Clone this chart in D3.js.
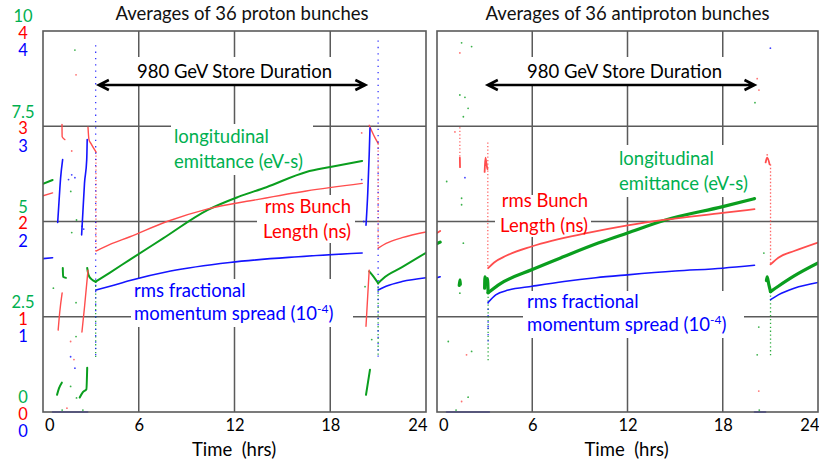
<!DOCTYPE html>
<html>
<head>
<meta charset="utf-8">
<script src="https://cdn.jsdelivr.net/npm/d3@7"></script>
<style>
  body { margin: 0; background: #fff; }
  svg { display: block; font-family: Lato, "Open Sans", sans-serif; }
</style>
</head>
<body>
<svg id="chart" width="819" height="466"></svg>
<script>
// ---------------------------------------------------------------------------
// Axis ticks and titles
const timeTicks = [0, 6, 12, 18, 24];              // hours
const emittanceTicks = [0, 2.5, 5, 7.5, 10];        // eV-s
const lengthTicks = [0, 1, 2, 3, 4];                // ns
const spreadTicks = [0, 1, 2, 3, 4];                // 1e-4
const panelTitles = ["Averages of 36 proton bunches", "Averages of 36 antiproton bunches"];
const storeSpan = [[3.5, 20.2], [3.2, 20.0]];       // hours at 980 GeV

// ---------------------------------------------------------------------------
// Proton bunches: traces are [hours, value]; drops are [hours, from, to]
const pEmitTraces = [
  [[0, 5.99], [0.6, 6.09]],
  [[0.88, 0.45], [1.0, 0.62], [1.18, 0.77]],
  [[1.24, 3.78], [1.26, 3.55], [1.44, 3.52]],
  [[2.3, 0.38], [2.5, 0.52], [2.72, 0.6], [2.77, 1.16]],
  [[2.77, 3.78], [2.85, 3.6], [3.05, 3.48], [3.3, 3.42]],
  [[3.3, 3.42], [4.2, 3.66], [5.45, 4.0], [7.5, 4.55], [10.3, 5.3], [12.2, 5.64], [14, 5.9], [16.5, 6.3], [18, 6.43], [20, 6.59]],
  [[20.24, 0.45], [20.49, 1.11]],
  [[20.44, 3.69], [20.7, 3.56], [21.0, 3.38]],
  [[21.0, 3.38], [21.3, 3.5], [22.5, 3.8], [24, 4.18]]
];
const pEmitDrops = [[3.3, 3.42, 1.42], [21.0, 3.38, 1.44]];
const pEmitDots = [[2.0, 9.5], [1.74, 5.79], [2.1, 5.04], [1.8, 4.71], [0.65, 3.25], [2.07, 2.87],
  [2.07, 1.98], [1.73, 0.67], [2.1, 0.37], [1.2, 0.05], [2.5, 0.05], [20.18, 3.29], [20.6, 1.9]];

const pLenTraces = [
  [[0, 2.27], [0.6, 2.3]],
  [[0.95, 0.86], [1.05, 1.05], [1.2, 1.25]],
  [[1.19, 3.02], [1.2, 2.89], [1.37, 2.86]],
  [[2.44, 0.84], [2.6, 1.1], [2.82, 1.49]],
  [[2.82, 2.99], [2.88, 2.86], [3.0, 2.82], [3.32, 2.73]],
  [[3.32, 1.69], [4.2, 1.76], [5.45, 1.84], [7.77, 2.0], [10.28, 2.13], [13.41, 2.23], [16.5, 2.32], [20, 2.4]],
  [[20.24, 0.9], [20.44, 1.49]],
  [[20.44, 3.01], [20.6, 2.95], [20.8, 2.88], [21.0, 2.82]],
  [[21.0, 1.72], [21.5, 1.77], [22.5, 1.83], [24, 1.89]]
];
const pLenDrops = [[3.32, 2.73, 1.69], [21.0, 2.82, 1.72]];
const pLenDots = [[2.07, 3.54], [1.8, 2.74], [1.73, 0.74], [1.94, 0.55], [19.97, 2.93], [1.5, 0.04]];

const pSpreadTraces = [
  [[0, 1.61], [0.6, 1.62]],
  [[0.92, 1.99], [1.0, 2.2], [1.1, 2.45], [1.23, 2.65]],
  [[2.42, 1.86], [2.5, 2.1], [2.6, 2.4], [2.74, 2.65], [2.77, 2.86]],
  [[3.32, 1.28], [4.2, 1.32], [5.45, 1.38], [8, 1.48], [11.7, 1.57], [16, 1.63], [20, 1.67]],
  [[20.24, 1.96], [20.35, 2.3], [20.44, 2.7], [20.49, 2.98]],
  [[21.0, 1.28], [21.5, 1.32], [22.5, 1.37], [24, 1.41]],
  [[0.6, 0.0], [2.8, 0.0]]
];
const pSpreadDrops = [[3.3, 3.85, 0.57], [21.0, 3.9, 0.57]];
const pSpreadDots = [[1.6, 2.44], [1.8, 2.49], [2.0, 2.46], [1.73, 0.58], [2.0, 0.46],
  [19.97, 2.44], [20.1, 2.0], [2.45, 1.95], [2.55, 1.92]];

// ---------------------------------------------------------------------------
// Antiproton bunches
const aEmitTraces = [
  [[0, 4.42], [0.2, 4.46]],
  [[1.4, 3.32], [1.45, 3.47], [1.47, 3.35]],
  [[3.0, 3.25], [3.02, 3.55], [3.12, 3.4], [3.18, 3.5], [3.22, 3.13]],
  [[3.22, 3.13], [4, 3.37], [6, 3.74], [8, 4.08], [10.2, 4.44], [12, 4.7], [14.4, 5.04], [18, 5.39], [20, 5.6]],
  [[20.75, 3.45], [20.8, 3.55], [20.9, 3.35], [21.01, 3.16]],
  [[21.01, 3.16], [21.5, 3.3], [22.5, 3.57], [24, 3.91]]
];
const aEmitDrops = [[3.22, 3.13, 1.32], [21.01, 3.16, 1.42]];
const aEmitDots = [[1.55, 9.69], [2.18, 9.59], [1.44, 8.32], [1.76, 8.26], [1.96, 7.97], [1.66, 7.75],
  [0.61, 6.05], [1.55, 5.61], [1.55, 5.44], [1.66, 4.43], [1.44, 3.12], [0.71, 1.85], [2.18, 1.59],
  [1.96, 0.39], [20.03, 8.12], [20.59, 4.17], [20.27, 2.23], [20.17, 1.5], [1.2, 0.05], [20.3, 0.05]];

const aLenTraces = [
  [[0, 1.88], [0.2, 1.9]],
  [[1.44, 2.67], [1.45, 2.57]],
  [[3.0, 2.52], [3.05, 2.67], [3.12, 2.6], [3.18, 2.55]],
  [[3.22, 1.51], [3.6, 1.57], [4.35, 1.64], [6, 1.74], [9.5, 1.88], [12, 1.96], [14.4, 2.02], [18, 2.09], [20, 2.13]],
  [[20.7, 2.62], [20.8, 2.67], [20.95, 2.6]],
  [[21.01, 1.55], [21.5, 1.62], [22.5, 1.69], [24, 1.78]]
];
const aLenDrops = [[1.44, 2.99, 2.67], [3.2, 2.83, 1.51], [21.01, 2.6, 1.55]];
const aLenDots = [[1.44, 3.77], [1.13, 2.94], [1.86, 0.6], [1.55, 0.11], [20.17, 3.5], [20.28, 3.38],
  [20.27, 0.22], [20.8, 2.7]];

const aSpreadTraces = [
  [[0, 1.41], [0.2, 1.42]],
  [[3.22, 1.15], [3.7, 1.23], [4.5, 1.28], [6, 1.32], [8, 1.37], [10, 1.41], [12, 1.44], [15, 1.48], [18, 1.51], [20, 1.54]],
  [[21.01, 1.18], [21.5, 1.23], [22.5, 1.3], [24, 1.36]],
  [[0.6, 0.0], [3.3, 0.0]],
  [[20.0, 0.0], [20.7, 0.0]]
];
const aSpreadDrops = [[3.22, 1.15, 0.7]];
const aSpreadDots = [[1.76, 2.46], [21.0, 3.82], [3.22, 0.9]];

// ---------------------------------------------------------------------------
const colors = {
  emitText: "#00b050", lenText: "#ff0000", spreadText: "#0000ff",
  emit: "#0a9e1e", len: "#ff4d4d", spread: "#1414ff",
  grid: "#5a5a5a"
};

const svg = d3.select("#chart");
const plotTop = 31, plotBottom = 412;

const yEmit = d3.scaleLinear().domain([0, 10]).range([plotBottom, plotTop]);
const yLen = d3.scaleLinear().domain([0, 4]).range([plotBottom, plotTop]);
const ySpread = d3.scaleLinear().domain([0, 4]).range([plotBottom, plotTop]);

const panels = [
  {
    x0: 43, x1: 426, titleX: 242, timeX: 234,
    title: panelTitles[0], span: storeSpan[0],
    series: [
      { traces: pEmitTraces, drops: pEmitDrops, dots: pEmitDots, y: yEmit, color: colors.emit, width: 2, dash: "1.3 2.6" },
      { traces: pLenTraces, drops: pLenDrops, dots: pLenDots, y: yLen, color: colors.len, width: 1.4, dash: "1.3 2.2" },
      { traces: pSpreadTraces, drops: pSpreadDrops, dots: pSpreadDots, y: ySpread, color: colors.spread, width: 1.6, dash: "1.3 5" }
    ],
    labels: {
      store: { x: 234.5, y: 78, box: [133, 57, 205, 27] },
      emit: { x: 174, y: [143, 168], anchor: "start", box: [171, 124, 142, 51] },
      len: { x: 351, y: [213, 238], anchor: "end", box: [257, 195, 98, 48] },
      spread: { x: 134, y: [297, 320], anchor: "start", box: [131, 279, 222, 48] }
    }
  },
  {
    x0: 437, x1: 818, titleX: 627.5, timeX: 626.5,
    title: panelTitles[1], span: storeSpan[1],
    series: [
      { traces: aEmitTraces, drops: aEmitDrops, dots: aEmitDots, y: yEmit, color: colors.emit, width: 3.2, dash: "1.3 2.6" },
      { traces: aLenTraces, drops: aLenDrops, dots: aLenDots, y: yLen, color: colors.len, width: 1.8, dash: "1.3 2.2" },
      { traces: aSpreadTraces, drops: aSpreadDrops, dots: aSpreadDots, y: ySpread, color: colors.spread, width: 1.6, dash: "1.3 5" }
    ],
    labels: {
      store: { x: 624.5, y: 78, box: [523, 57, 205, 27] },
      emit: { x: 619, y: [165, 190], anchor: "start", box: [615, 145, 145, 52] },
      len: { x: 588, y: [207, 232], anchor: "end", box: [495, 195, 96, 42] },
      spread: { x: 527, y: [308, 331], anchor: "start", box: [523, 291, 221, 47] }
    }
  }
];

const textSize = 18.5;

panels.forEach(p => {
  const x = d3.scaleLinear().domain([0, 24]).range([p.x0, p.x1]);
  const g = svg.append("g");

  // grid
  g.append("g").selectAll("line.v").data(timeTicks.slice(1, -1)).join("line")
    .attr("x1", d => x(d)).attr("x2", d => x(d))
    .attr("y1", plotTop).attr("y2", plotBottom)
    .attr("stroke", colors.grid).attr("stroke-width", 1.5);
  g.append("g").selectAll("line.h").data(emittanceTicks.slice(1, -1)).join("line")
    .attr("x1", p.x0).attr("x2", p.x1)
    .attr("y1", d => yEmit(d)).attr("y2", d => yEmit(d))
    .attr("stroke", colors.grid).attr("stroke-width", 1.5);

  // white label boxes
  Object.values(p.labels).forEach(l => {
    g.append("rect").attr("x", l.box[0]).attr("y", l.box[1])
      .attr("width", l.box[2]).attr("height", l.box[3]).attr("fill", "#fff");
  });

  // data
  const clipId = "clip" + p.x0;
  svg.append("clipPath").attr("id", clipId).append("rect")
    .attr("x", p.x0).attr("y", plotTop).attr("width", p.x1 - p.x0).attr("height", plotBottom - plotTop + 1);
  const dg = g.append("g").attr("clip-path", `url(#${clipId})`);

  p.series.forEach(s => {
    const line = d3.line().x(d => x(d[0])).y(d => s.y(d[1])).curve(d3.curveMonotoneX);
    const straight = d3.line().x(d => x(d[0])).y(d => s.y(d[1]));
    dg.append("g").selectAll("line").data(s.drops).join("line")
      .attr("x1", d => x(d[0])).attr("x2", d => x(d[0]))
      .attr("y1", d => s.y(d[1])).attr("y2", d => s.y(d[2]))
      .attr("stroke", s.color).attr("stroke-width", 1.3)
      .attr("stroke-dasharray", s.dash).attr("opacity", 0.85);
    dg.append("g").selectAll("path").data(s.traces).join("path")
      .attr("d", d => d[0][0] === d[1][0] ? straight(d) : line(d))
      .attr("fill", "none").attr("stroke", s.color)
      .attr("stroke-width", s.width).attr("stroke-linejoin", "round").attr("stroke-linecap", "round");
    dg.append("g").selectAll("circle").data(s.dots).join("circle")
      .attr("cx", d => x(d[0])).attr("cy", d => s.y(d[1])).attr("r", 0.9)
      .attr("fill", s.color).attr("opacity", 0.8);
  });

  // frame
  g.append("rect").attr("x", p.x0).attr("y", plotTop)
    .attr("width", p.x1 - p.x0).attr("height", plotBottom - plotTop)
    .attr("fill", "none").attr("stroke", colors.grid).attr("stroke-width", 1.6);

  // title
  svg.append("text").attr("x", p.titleX).attr("y", 20).attr("text-anchor", "middle")
    .attr("font-size", textSize).attr("fill", "#111").text(p.title);

  // store duration annotation
  const L = p.labels;
  svg.append("text").attr("x", L.store.x).attr("y", L.store.y).attr("text-anchor", "middle")
    .attr("font-size", textSize).attr("fill", "#000").text("980 GeV Store Duration");
  const ax0 = x(p.span[0]), ax1 = x(p.span[1]), ay = 85;
  svg.append("path")
    .attr("d", `M${ax0},${ay}H${ax1}M${ax0 + 10},${ay - 5}L${ax0},${ay}L${ax0 + 10},${ay + 5}M${ax1 - 10},${ay - 5}L${ax1},${ay}L${ax1 - 10},${ay + 5}`)
    .attr("fill", "none").attr("stroke", "#000").attr("stroke-width", 2.6)
    .attr("stroke-linejoin", "miter");

  // series labels
  const label = (cfg, lines, color) => {
    lines.forEach((ln, i) => {
      const t = svg.append("text").attr("x", cfg.x).attr("y", cfg.y[i])
        .attr("text-anchor", cfg.anchor).attr("font-size", textSize).attr("fill", color);
      if (typeof ln === "string") t.text(ln); else ln(t);
    });
  };
  label(L.emit, ["longitudinal", "emittance (eV-s)"], colors.emitText);
  label(L.len, ["rms Bunch", "Length (ns)"], colors.lenText);
  label(L.spread, ["rms fractional", t => {
    t.append("tspan").text("momentum spread (10");
    t.append("tspan").attr("dy", -7).attr("font-size", 12).text("-4");
    t.append("tspan").attr("dy", 7).text(")");
  }], colors.spreadText);

  // time axis
  const axis = d3.axisBottom(x).tickValues(timeTicks).tickSize(0).tickPadding(0).tickFormat(d3.format("d"));
  const ag = svg.append("g").attr("transform", `translate(0,${plotBottom + 19})`).call(axis);
  ag.select(".domain").remove();
  ag.selectAll("text").attr("font-size", 16.5).attr("font-family", "Lato, sans-serif")
    .attr("fill", "#000").attr("dy", 0)
    .attr("text-anchor", d => d === 0 ? "start" : d === 24 ? "end" : "middle")
    .attr("dx", d => d === 0 ? 1.5 : d === 24 ? 1 : 0);
  svg.append("text").attr("x", p.timeX).attr("y", 456).attr("text-anchor", "middle")
    .attr("font-size", textSize).attr("fill", "#000").style("white-space", "pre").text("Time  (hrs)");
});

// stacked value scales on the left
const tickLayer = svg.append("g").attr("font-size", 16.5).attr("text-anchor", "middle");
const tickX = 23;
emittanceTicks.forEach((v, i) => {
  tickLayer.append("text").attr("x", tickX).attr("y", yEmit(v) - 14.5).attr("dy", "0.36em")
    .attr("fill", colors.emitText).text(d3.format("")(v));
  tickLayer.append("text").attr("x", tickX).attr("y", yLen(lengthTicks[i]) + 2).attr("dy", "0.36em")
    .attr("fill", colors.lenText).text(lengthTicks[i]);
  tickLayer.append("text").attr("x", tickX).attr("y", ySpread(spreadTicks[i]) + 19.5).attr("dy", "0.36em")
    .attr("fill", colors.spreadText).text(spreadTicks[i]);
});
</script>
</body>
</html>
